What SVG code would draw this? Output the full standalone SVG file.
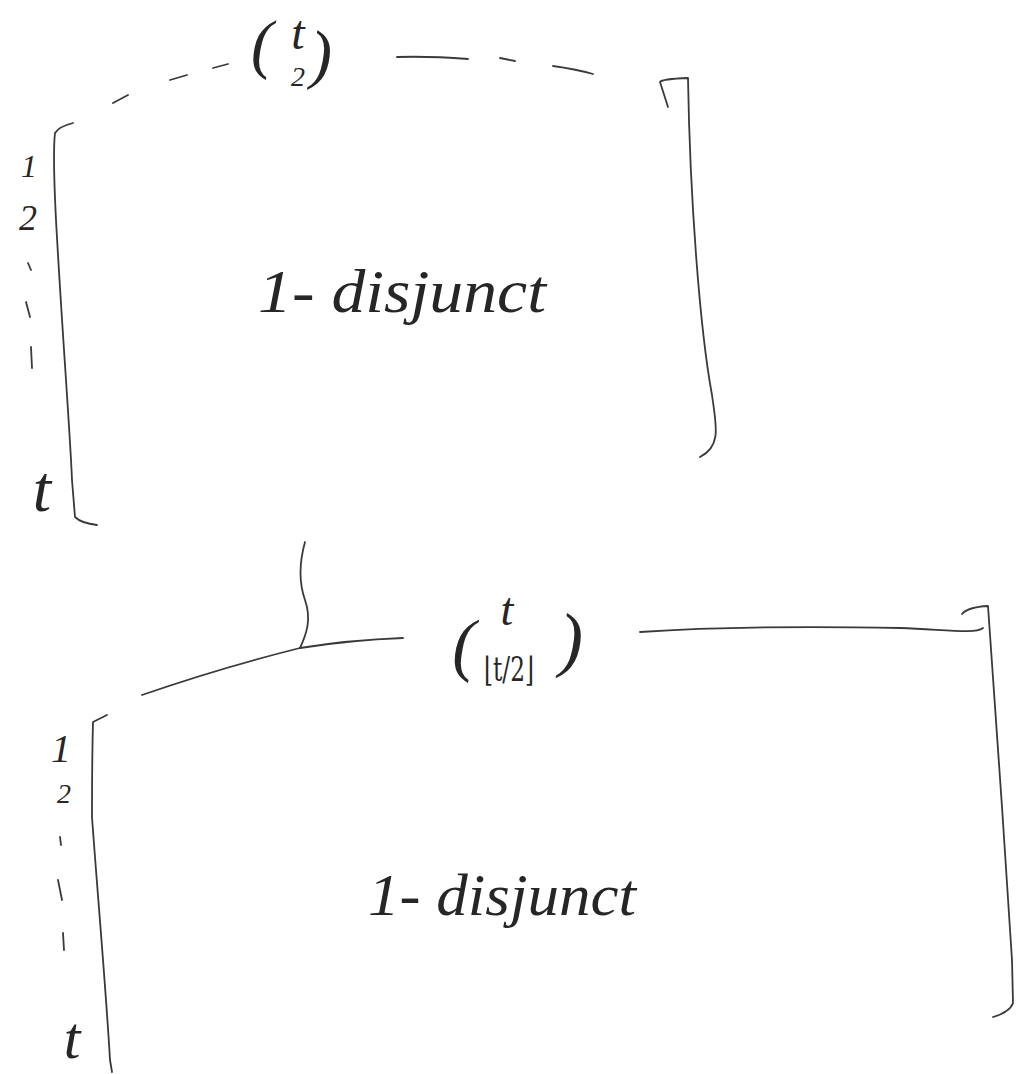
<svg xmlns="http://www.w3.org/2000/svg" width="1021" height="1074" viewBox="0 0 1021 1074">
<style>
.ink{fill:none;stroke:#3a3a3a;stroke-width:1.8;stroke-linecap:round;stroke-linejoin:round}
.hw{font-family:"Liberation Serif","DejaVu Serif",serif;font-style:italic;fill:#262626}
.mm{font-family:"DejaVu Serif","Liberation Serif",serif;fill:#262626}
</style>
<rect width="1021" height="1074" fill="#ffffff"/>
<g id="matrix-top">
  <path class="ink" d="M73,123 C65,125 58,128 55,133 C53,150 54,180 56,220 C62,330 70,430 72,480 L75,517 C80,522 88,524 97,525"/>
  <path class="ink" d="M668,107 L660,82 Q662,79 688,78 C690,200 700,330 712,395 C716,425 722,446 700,457"/>
  <path class="ink" d="M113,103 L128,95 M170,80 L187,75 M213,68 L228,64 M397,57 Q430,56 468,59 M500,58 L515,61 M553,66 Q575,69 593,74"/>
  <text class="hw" x="262" y="66" font-size="66" text-anchor="middle">(</text>
  <text class="hw" x="298" y="49" font-size="48" text-anchor="middle">t</text>
  <text class="hw" x="298" y="86" font-size="28" text-anchor="middle">2</text>
  <text class="hw" x="321" y="76" font-size="66" text-anchor="middle">)</text>
  <text class="hw" x="29" y="177" font-size="32" text-anchor="middle">1</text>
  <text class="hw" x="28" y="230" font-size="36" text-anchor="middle">2</text>
  <path class="ink" d="M28,263 L31,270 M26,302 L30,317 M31,347 L32,368"/>
  <text class="hw" x="42" y="511" font-size="66" text-anchor="middle">t</text>
  <text class="hw" x="258" y="312" font-size="62" textLength="288" lengthAdjust="spacingAndGlyphs">1- disjunct</text>
</g>
<g id="matrix-bottom">
  <path class="ink" d="M107,715 L93,722 C92,760 92,790 92,817 C98,900 106,990 110,1060 L112,1072"/>
  <path class="ink" d="M142,695 Q220,668 300,648 Q350,640 403,638"/>
  <path class="ink" d="M640,632 C700,628 800,626 900,628 C950,630 975,634 983,628"/>
  <path class="ink" d="M962,614 Q968,607 988,606 C995,700 1005,850 1012,960 L1013,1003 Q1010,1012 993,1017"/>
  <text class="hw" x="464" y="668" font-size="70" text-anchor="middle">(</text>
  <text class="hw" x="507" y="625" font-size="46" text-anchor="middle">t</text>
  <text class="mm" x="484" y="681" font-size="34" textLength="50" lengthAdjust="spacingAndGlyphs">⌊t/2⌋</text>
  <text class="hw" x="571" y="663" font-size="72" text-anchor="middle">)</text>
  <text class="hw" x="61" y="762" font-size="40" text-anchor="middle">1</text>
  <text class="hw" x="64" y="803" font-size="28" text-anchor="middle">2</text>
  <path class="ink" d="M60,837 L61,845 M58,880 L62,900 M63,933 L64,950"/>
  <text class="hw" x="72" y="1058" font-size="60" text-anchor="middle">t</text>
  <text class="hw" x="368" y="915" font-size="60" textLength="268" lengthAdjust="spacingAndGlyphs">1- disjunct</text>
</g>
<g id="connectors">
  <path class="ink" d="M305,542 C300,560 298,580 305,600 C312,620 306,635 300,648"/>
</g>
</svg>
